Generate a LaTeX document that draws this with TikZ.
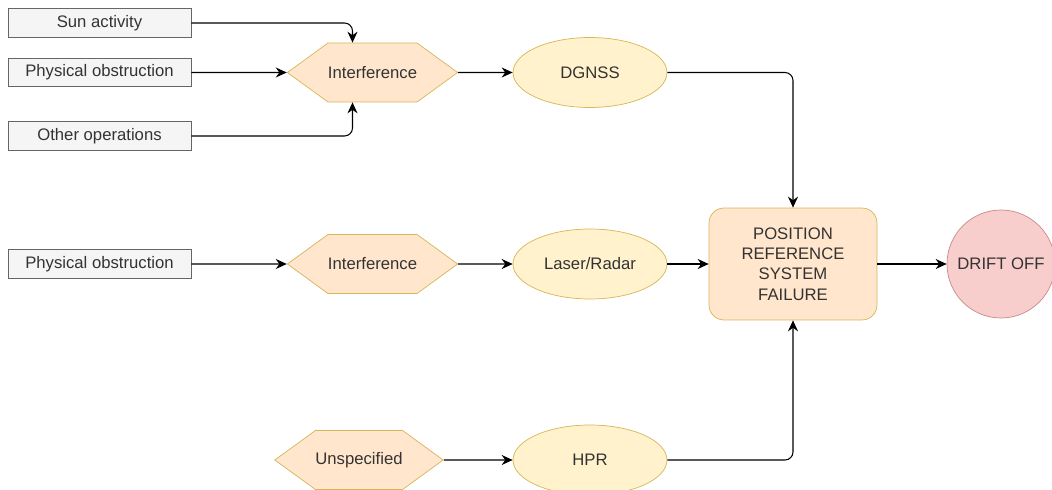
\documentclass[tikz,border=0pt]{standalone}
\usepackage{fontspec}
\setmainfont{Liberation Sans}
\usetikzlibrary{shapes.geometric,shapes.symbols,arrows.meta}
\definecolor{boxfill}{HTML}{F5F5F5}
\definecolor{boxline}{HTML}{666666}
\definecolor{hexfill}{HTML}{FFE6CC}
\definecolor{yelfill}{HTML}{FFF2CC}
\definecolor{yelline}{HTML}{D6B656}
\definecolor{redfill}{HTML}{F8CECC}
\definecolor{redline}{HTML}{C88A88}
\definecolor{txt}{HTML}{333333}
\begin{document}
\begin{tikzpicture}[x = 0.02cm, y = -0.02cm,
		every node/.style = {font = \fontsize{9.5}{11.5}\selectfont, text = txt, align = center, inner sep = 0pt},
		cause/.style = {draw = boxline, fill = boxfill, minimum width = 3.66cm, minimum height = 0.57cm},
		hexa/.style = {signal, signal to = east and west, signal pointer angle = 72, draw = yelline, fill = hexfill, minimum width = 3.34cm, minimum height = 1.18cm},
		sensor/.style = {ellipse, draw = yelline, fill = yelfill, minimum width = 3.08cm, minimum height = 1.4cm},
		flow/.style = {-{Stealth[length = 2.2mm, width = 2mm]}, line width = 0.6pt, rounded corners = 1.6mm}]
		\useasboundingbox (0,0) rectangle (1052,490);
		\node [cause] (sun) at (99.5,23) {Sun activity};
		\node [cause] (obs1) at (99.5,72.5) {Physical obstruction};
		\node [cause] (other) at (99.5,136) {Other operations};
		\node [hexa] (int1) at (372.5,72.5) {Interference};
		\node [sensor] (dgnss) at (590,72.5) {DGNSS};
		\node [cause] (obs2) at (99.5,264) {Physical obstruction};
		\node [hexa] (int2) at (372.5,264) {Interference};
		\node [sensor] (laser) at (590,264) {Laser/Radar};
		\node [hexa] (unspec) at (359,460) {Unspecified};
		\node [sensor] (hpr) at (590,460) {HPR};
		\node [draw = yelline, fill = hexfill, rounded corners = 0.3cm, minimum width = 3.36cm, minimum height = 2.24cm] (prs) at (793,264) {POSITION\\REFERENCE\\SYSTEM\\FAILURE};
		\node [circle, draw = redline, fill = redfill, minimum size = 2.16cm] (drift) at (1001,264) {DRIFT OFF};
		\draw [flow] (sun) -| ([xshift = -0.4cm]int1.north);
		\draw [flow] (other) -| ([xshift = -0.4cm]int1.south);
		\draw [flow] (obs1) -- (int1);
		\draw [flow] (int1) -- (dgnss);
		\draw [flow] (dgnss) -| (prs);
		\draw [flow] (obs2) -- (int2);
		\draw [flow] (int2) -- (laser);
		\draw [flow] (laser) -- (prs);
		\draw [flow] (unspec) -- (hpr);
		\draw [flow] (hpr) -| (prs);
		\draw [flow] (prs) -- (drift);
	\end{tikzpicture}
\end{document}
